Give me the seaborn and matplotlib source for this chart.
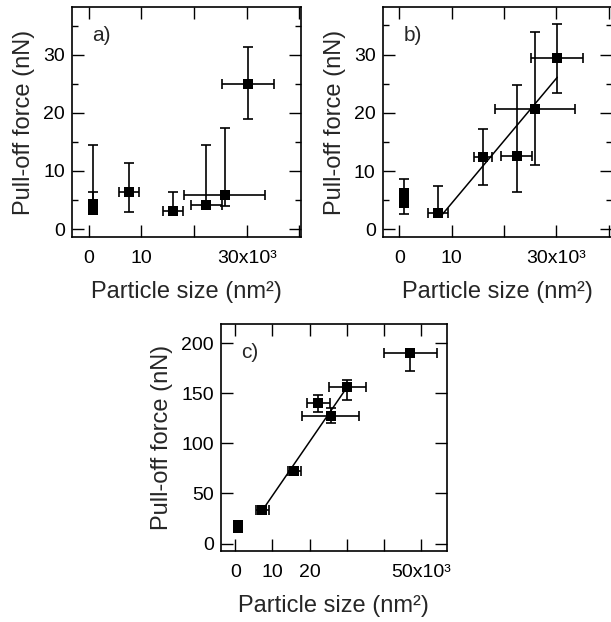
import matplotlib
matplotlib.use("Agg")
import matplotlib.pyplot as plt
import seaborn as sns
from matplotlib.ticker import FixedLocator, MultipleLocator

# Panel a) data (x in 10^3 nm^2, force in nN)
a_x = [0.7, 0.7, 7.6, 16.0, 22.3, 25.8, 30.2]
a_y = [4.3, 3.3, 6.3, 3.1, 4.2, 5.8, 25.0]
a_yerr_lo = [0.8, 0.5, 3.3, 0.5, 0.5, 1.9, 6.1]
a_yerr_hi = [10.1, 3.0, 5.1, 3.2, 10.2, 11.6, 6.3]
a_xerr = [0.3, 0.3, 1.9, 1.85, 2.95, 7.7, 4.95]

# Panel b) data
b_x = [0.8, 0.8, 7.4, 16.05, 22.4, 25.9, 30.2]
b_y = [6.3, 4.6, 2.8, 12.4, 12.55, 20.7, 29.4]
b_yerr_lo = [0.5, 1.9, 0.5, 4.85, 6.2, 9.7, 6.0]
b_yerr_hi = [2.4, 0.5, 4.7, 4.8, 12.15, 13.1, 5.8]
b_xerr = [0.3, 0.3, 1.9, 1.75, 3.0, 7.7, 4.95]
b_fit_x = [8.0, 30.2]
b_fit_y = [2.35, 26.1]

# Panel c) data
c_x = [0.7, 0.7, 7.3, 15.9, 22.3, 25.6, 30.1, 47.0]
c_y = [18.5, 15.0, 33.7, 72.0, 140.8, 127.8, 156.8, 190.0]
c_yerr_lo = [1.0, 1.0, 1.0, 1.0, 9.0, 7.8, 13.3, 17.5]
c_yerr_hi = [1.0, 1.0, 1.0, 1.0, 7.7, 7.2, 6.7, 1.0]
c_xerr = [0.3, 0.3, 1.8, 1.75, 3.1, 7.6, 4.9, 7.15]
c_fit_x = [8.0, 30.1]
c_fit_y = [37.0, 156.5]

ab_xticks = [0, 10, 20, 30, 40]
ab_xticklabels = ['0', '10', '', '30x10³', '']
ab_yticks = [0, 10, 20, 30]
c_xticks = [0, 10, 20, 30, 40, 50]
c_xticklabels = ['0', '10', '20', '', '', '50x10³']
c_yticks = [0, 50, 100, 150, 200]

sns.set_style("ticks")
plt.rcParams['font.family'] = ['Liberation Sans', 'DejaVu Sans']
plt.rcParams['axes.linewidth'] = 1.2

fig = plt.figure(figsize=(6.11, 6.22), dpi=100)
ax_a = fig.add_axes([0.1178, 0.619, 0.3748, 0.3698])
ax_b = fig.add_axes([0.6263, 0.6185, 0.3748, 0.3707])
ax_c = fig.add_axes([0.3612, 0.1146, 0.3699, 0.364])


def draw_panel(ax, x, y, ylo, yhi, xerr, label, fit_x=None, fit_y=None):
    ax.errorbar(x, y, yerr=[ylo, yhi], xerr=xerr, fmt='none', ecolor='black',
                elinewidth=1.2, capsize=3.4, capthick=1.2, zorder=2)
    if fit_x is not None:
        sns.lineplot(x=fit_x, y=fit_y, color='black', linewidth=1.1, ax=ax, zorder=3)
    sns.scatterplot(x=x, y=y, marker='s', color='black', s=58, linewidth=0,
                    ax=ax, zorder=4)
    ax.text(0.09, 0.875, label, transform=ax.transAxes, fontsize=15,
            ha='left', va='center')
    ax.tick_params(which='both', direction='in', top=True, right=True,
                   labelsize=14, width=1.0, colors='black')
    ax.tick_params(which='major', length=8.5, pad=5)
    ax.tick_params(axis='x', which='major', pad=9.5)
    ax.tick_params(which='minor', length=4.3)
    ax.set_xlabel('Particle size (nm²)', fontsize=17, labelpad=10)
    ax.set_ylabel('Pull-off force (nN)', fontsize=17, labelpad=6)
    for s in ax.spines.values():
        s.set_color('black')


draw_panel(ax_a, a_x, a_y, a_yerr_lo, a_yerr_hi, a_xerr, 'a)')
draw_panel(ax_b, b_x, b_y, b_yerr_lo, b_yerr_hi, b_xerr, 'b)', b_fit_x, b_fit_y)
draw_panel(ax_c, c_x, c_y, c_yerr_lo, c_yerr_hi, c_xerr, 'c)', c_fit_x, c_fit_y)

for ax in (ax_a, ax_b):
    ax.xaxis.set_major_locator(FixedLocator(ab_xticks))
    ax.set_xticklabels(ab_xticklabels)
    ax.yaxis.set_major_locator(FixedLocator(ab_yticks))
    ax.yaxis.set_minor_locator(MultipleLocator(5))
    ax.set_ylim(-1.35, 38.2)
ax_a.set_xlim(-3.2, 40.3)
ax_b.set_xlim(-3.2, 40.6)

ax_c.xaxis.set_major_locator(FixedLocator(c_xticks))
ax_c.set_xticklabels(c_xticklabels)
ax_c.yaxis.set_major_locator(FixedLocator(c_yticks))
ax_c.set_xlim(-3.9, 56.8)
ax_c.set_ylim(-7.2, 219)

fig.savefig('out.png', dpi=100)
